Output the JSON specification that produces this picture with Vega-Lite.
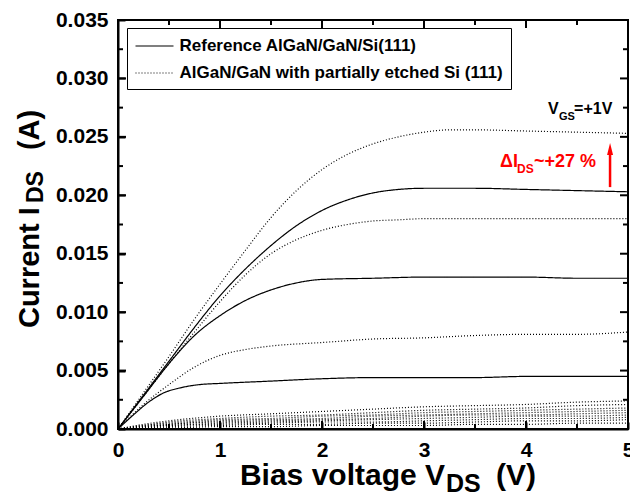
{
  "$schema": "https://vega.github.io/schema/vega-lite/v6.json",
  "width": 510,
  "height": 409,
  "autosize": {"type": "none"},
  "padding": {"left": 118, "top": 20, "right": 2, "bottom": 66},
  "background": "white",
  "config": {
    "view": {"stroke": "black", "strokeWidth": 2},
    "font": "Liberation Sans",
    "axis": {"grid": false, "labelFont": "Liberation Sans", "labelFontSize": 21, "labelFontWeight": "bold", "labelColor": "black", "title": null, "labelFlush": false, "labelOverlap": false}
  },
  "datasets": {
    "xt": [{"t":0,"k":"major"},{"t":0.5,"k":"minor"},{"t":1,"k":"major"},{"t":1.5,"k":"minor"},{"t":2,"k":"major"},{"t":2.5,"k":"minor"},{"t":3,"k":"major"},{"t":3.5,"k":"minor"},{"t":4,"k":"major"},{"t":4.5,"k":"minor"},{"t":5,"k":"major"}],
    "yt": [{"t":0,"k":"major"},{"t":0.0025,"k":"minor"},{"t":0.005,"k":"major"},{"t":0.0075,"k":"minor"},{"t":0.01,"k":"major"},{"t":0.0125,"k":"minor"},{"t":0.015,"k":"major"},{"t":0.0175,"k":"minor"},{"t":0.02,"k":"major"},{"t":0.0225,"k":"minor"},{"t":0.025,"k":"major"},{"t":0.0275,"k":"minor"},{"t":0.03,"k":"major"},{"t":0.0325,"k":"minor"},{"t":0.035,"k":"major"}]
  },
  "resolve": {"axis": {"x": "independent", "y": "independent"}},
  "layer": [
    {
      "data": {"values": [
        {"s":"R","c":"S1","v":0,"i":0},{"s":"R","c":"S1","v":0.25,"i":0.0029},{"s":"R","c":"S1","v":0.5,"i":0.0058},{"s":"R","c":"S1","v":0.75,"i":0.0087},{"s":"R","c":"S1","v":1,"i":0.0114},{"s":"R","c":"S1","v":1.25,"i":0.0137},{"s":"R","c":"S1","v":1.5,"i":0.0157},{"s":"R","c":"S1","v":1.75,"i":0.0174},{"s":"R","c":"S1","v":2,"i":0.0187},{"s":"R","c":"S1","v":2.25,"i":0.0196},{"s":"R","c":"S1","v":2.5,"i":0.0202},{"s":"R","c":"S1","v":2.75,"i":0.0205},{"s":"R","c":"S1","v":3,"i":0.0206},{"s":"R","c":"S1","v":3.5,"i":0.0206},{"s":"R","c":"S1","v":4,"i":0.0205},{"s":"R","c":"S1","v":4.5,"i":0.0204},{"s":"R","c":"S1","v":5,"i":0.0203},
        {"s":"R","c":"S2","v":0,"i":0},{"s":"R","c":"S2","v":0.25,"i":0.0028},{"s":"R","c":"S2","v":0.5,"i":0.0056},{"s":"R","c":"S2","v":0.75,"i":0.008},{"s":"R","c":"S2","v":1,"i":0.0097},{"s":"R","c":"S2","v":1.25,"i":0.011},{"s":"R","c":"S2","v":1.5,"i":0.0119},{"s":"R","c":"S2","v":1.75,"i":0.0125},{"s":"R","c":"S2","v":2,"i":0.0128},{"s":"R","c":"S2","v":2.5,"i":0.0129},{"s":"R","c":"S2","v":3,"i":0.013},{"s":"R","c":"S2","v":3.5,"i":0.013},{"s":"R","c":"S2","v":4,"i":0.013},{"s":"R","c":"S2","v":4.5,"i":0.0129},{"s":"R","c":"S2","v":5,"i":0.0129},
        {"s":"R","c":"S3","v":0,"i":0},{"s":"R","c":"S3","v":0.15,"i":0.0012},{"s":"R","c":"S3","v":0.3,"i":0.0023},{"s":"R","c":"S3","v":0.45,"i":0.0031},{"s":"R","c":"S3","v":0.6,"i":0.0035},{"s":"R","c":"S3","v":0.8,"i":0.0038},{"s":"R","c":"S3","v":1,"i":0.0039},{"s":"R","c":"S3","v":1.5,"i":0.0041},{"s":"R","c":"S3","v":2,"i":0.0043},{"s":"R","c":"S3","v":2.5,"i":0.0044},{"s":"R","c":"S3","v":3,"i":0.0044},{"s":"R","c":"S3","v":3.5,"i":0.0044},{"s":"R","c":"S3","v":4,"i":0.0045},{"s":"R","c":"S3","v":4.5,"i":0.0045},{"s":"R","c":"S3","v":5,"i":0.0045},
        {"s":"E","c":"D1","v":0,"i":0},{"s":"E","c":"D1","v":0.25,"i":0.0031},{"s":"E","c":"D1","v":0.5,"i":0.0062},{"s":"E","c":"D1","v":0.75,"i":0.0094},{"s":"E","c":"D1","v":1,"i":0.0124},{"s":"E","c":"D1","v":1.25,"i":0.0153},{"s":"E","c":"D1","v":1.5,"i":0.0181},{"s":"E","c":"D1","v":1.75,"i":0.0204},{"s":"E","c":"D1","v":2,"i":0.0222},{"s":"E","c":"D1","v":2.25,"i":0.0235},{"s":"E","c":"D1","v":2.5,"i":0.0244},{"s":"E","c":"D1","v":2.75,"i":0.025},{"s":"E","c":"D1","v":3,"i":0.0254},{"s":"E","c":"D1","v":3.25,"i":0.0256},{"s":"E","c":"D1","v":3.5,"i":0.0256},{"s":"E","c":"D1","v":4,"i":0.0255},{"s":"E","c":"D1","v":4.5,"i":0.0254},{"s":"E","c":"D1","v":5,"i":0.0253},
        {"s":"E","c":"D2","v":0,"i":0},{"s":"E","c":"D2","v":0.25,"i":0.0028},{"s":"E","c":"D2","v":0.5,"i":0.0056},{"s":"E","c":"D2","v":0.75,"i":0.0083},{"s":"E","c":"D2","v":1,"i":0.0109},{"s":"E","c":"D2","v":1.25,"i":0.0132},{"s":"E","c":"D2","v":1.5,"i":0.015},{"s":"E","c":"D2","v":1.75,"i":0.0162},{"s":"E","c":"D2","v":2,"i":0.017},{"s":"E","c":"D2","v":2.25,"i":0.0175},{"s":"E","c":"D2","v":2.5,"i":0.0178},{"s":"E","c":"D2","v":2.75,"i":0.0179},{"s":"E","c":"D2","v":3,"i":0.018},{"s":"E","c":"D2","v":3.5,"i":0.018},{"s":"E","c":"D2","v":4,"i":0.018},{"s":"E","c":"D2","v":4.5,"i":0.018},{"s":"E","c":"D2","v":5,"i":0.018},
        {"s":"E","c":"D3","v":0,"i":0},{"s":"E","c":"D3","v":0.25,"i":0.0021},{"s":"E","c":"D3","v":0.5,"i":0.0038},{"s":"E","c":"D3","v":0.75,"i":0.0053},{"s":"E","c":"D3","v":1,"i":0.0063},{"s":"E","c":"D3","v":1.25,"i":0.0068},{"s":"E","c":"D3","v":1.5,"i":0.0071},{"s":"E","c":"D3","v":2,"i":0.0074},{"s":"E","c":"D3","v":2.5,"i":0.0077},{"s":"E","c":"D3","v":3,"i":0.0078},{"s":"E","c":"D3","v":3.5,"i":0.008},{"s":"E","c":"D3","v":4,"i":0.0081},{"s":"E","c":"D3","v":4.5,"i":0.0081},{"s":"E","c":"D3","v":5,"i":0.0083},
        {"s":"E","c":"D4","v":0,"i":0},{"s":"E","c":"D4","v":0.25,"i":0.0004},{"s":"E","c":"D4","v":0.5,"i":0.0007},{"s":"E","c":"D4","v":1,"i":0.0011},{"s":"E","c":"D4","v":1.5,"i":0.0013},{"s":"E","c":"D4","v":2,"i":0.0015},{"s":"E","c":"D4","v":2.5,"i":0.0017},{"s":"E","c":"D4","v":3,"i":0.0019},{"s":"E","c":"D4","v":3.5,"i":0.002},{"s":"E","c":"D4","v":4,"i":0.0021},{"s":"E","c":"D4","v":4.5,"i":0.0023},{"s":"E","c":"D4","v":5,"i":0.0024},
        {"s":"E","c":"L1","v":0,"i":0},{"s":"E","c":"L1","v":0.25,"i":0.0003},{"s":"E","c":"L1","v":0.5,"i":0.0006},{"s":"E","c":"L1","v":1,"i":0.0009},{"s":"E","c":"L1","v":1.5,"i":0.0011},{"s":"E","c":"L1","v":2,"i":0.0012},{"s":"E","c":"L1","v":2.5,"i":0.0014},{"s":"E","c":"L1","v":3,"i":0.0016},{"s":"E","c":"L1","v":3.5,"i":0.0017},{"s":"E","c":"L1","v":4,"i":0.0018},{"s":"E","c":"L1","v":4.5,"i":0.002},{"s":"E","c":"L1","v":5,"i":0.0021},
        {"s":"E","c":"L2","v":0,"i":0},{"s":"E","c":"L2","v":0.25,"i":0.0003},{"s":"E","c":"L2","v":0.5,"i":0.0005},{"s":"E","c":"L2","v":1,"i":0.0008},{"s":"E","c":"L2","v":1.5,"i":0.0009},{"s":"E","c":"L2","v":2,"i":0.0011},{"s":"E","c":"L2","v":2.5,"i":0.0012},{"s":"E","c":"L2","v":3,"i":0.0014},{"s":"E","c":"L2","v":3.5,"i":0.0015},{"s":"E","c":"L2","v":4,"i":0.0016},{"s":"E","c":"L2","v":4.5,"i":0.0017},{"s":"E","c":"L2","v":5,"i":0.0018},
        {"s":"E","c":"L3","v":0,"i":0},{"s":"E","c":"L3","v":0.25,"i":0.0002},{"s":"E","c":"L3","v":0.5,"i":0.0004},{"s":"E","c":"L3","v":1,"i":0.0007},{"s":"E","c":"L3","v":1.5,"i":0.0008},{"s":"E","c":"L3","v":2,"i":0.0009},{"s":"E","c":"L3","v":2.5,"i":0.0011},{"s":"E","c":"L3","v":3,"i":0.0012},{"s":"E","c":"L3","v":3.5,"i":0.0013},{"s":"E","c":"L3","v":4,"i":0.0014},{"s":"E","c":"L3","v":4.5,"i":0.0015},{"s":"E","c":"L3","v":5,"i":0.0016},
        {"s":"E","c":"L4","v":0,"i":0},{"s":"E","c":"L4","v":0.25,"i":0.0002},{"s":"E","c":"L4","v":0.5,"i":0.0004},{"s":"E","c":"L4","v":1,"i":0.0006},{"s":"E","c":"L4","v":1.5,"i":0.0007},{"s":"E","c":"L4","v":2,"i":0.0008},{"s":"E","c":"L4","v":2.5,"i":0.0009},{"s":"E","c":"L4","v":3,"i":0.0011},{"s":"E","c":"L4","v":3.5,"i":0.0012},{"s":"E","c":"L4","v":4,"i":0.0012},{"s":"E","c":"L4","v":4.5,"i":0.0013},{"s":"E","c":"L4","v":5,"i":0.0014},
        {"s":"E","c":"L5","v":0,"i":0},{"s":"E","c":"L5","v":0.25,"i":0.0002},{"s":"E","c":"L5","v":0.5,"i":0.0003},{"s":"E","c":"L5","v":1,"i":0.0005},{"s":"E","c":"L5","v":1.5,"i":0.0006},{"s":"E","c":"L5","v":2,"i":0.0007},{"s":"E","c":"L5","v":2.5,"i":0.0008},{"s":"E","c":"L5","v":3,"i":0.0009},{"s":"E","c":"L5","v":3.5,"i":0.001},{"s":"E","c":"L5","v":4,"i":0.0011},{"s":"E","c":"L5","v":4.5,"i":0.0011},{"s":"E","c":"L5","v":5,"i":0.0012},
        {"s":"E","c":"L6","v":0,"i":0},{"s":"E","c":"L6","v":0.25,"i":0.0001},{"s":"E","c":"L6","v":0.5,"i":0.0003},{"s":"E","c":"L6","v":1,"i":0.0004},{"s":"E","c":"L6","v":1.5,"i":0.0005},{"s":"E","c":"L6","v":2,"i":0.0006},{"s":"E","c":"L6","v":2.5,"i":0.0006},{"s":"E","c":"L6","v":3,"i":0.0007},{"s":"E","c":"L6","v":3.5,"i":0.0008},{"s":"E","c":"L6","v":4,"i":0.0009},{"s":"E","c":"L6","v":4.5,"i":0.0009},{"s":"E","c":"L6","v":5,"i":0.001},
        {"s":"E","c":"L7","v":0,"i":0},{"s":"E","c":"L7","v":0.25,"i":0.0001},{"s":"E","c":"L7","v":0.5,"i":0.0002},{"s":"E","c":"L7","v":1,"i":0.0003},{"s":"E","c":"L7","v":1.5,"i":0.0004},{"s":"E","c":"L7","v":2,"i":0.0004},{"s":"E","c":"L7","v":2.5,"i":0.0005},{"s":"E","c":"L7","v":3,"i":0.0005},{"s":"E","c":"L7","v":3.5,"i":0.0006},{"s":"E","c":"L7","v":4,"i":0.0007},{"s":"E","c":"L7","v":4.5,"i":0.0007},{"s":"E","c":"L7","v":5,"i":0.0008},
        {"s":"E","c":"L8","v":0,"i":0},{"s":"E","c":"L8","v":0.25,"i":0.0001},{"s":"E","c":"L8","v":0.5,"i":0.0001},{"s":"E","c":"L8","v":1,"i":0.0002},{"s":"E","c":"L8","v":1.5,"i":0.0002},{"s":"E","c":"L8","v":2,"i":0.0003},{"s":"E","c":"L8","v":2.5,"i":0.0003},{"s":"E","c":"L8","v":3,"i":0.0003},{"s":"E","c":"L8","v":3.5,"i":0.0004},{"s":"E","c":"L8","v":4,"i":0.0004},{"s":"E","c":"L8","v":4.5,"i":0.0005},{"s":"E","c":"L8","v":5,"i":0.0005}
      ]},
      "mark": {"type": "line", "interpolate": "monotone", "color": "black", "strokeWidth": 1.2, "clip": true},
      "encoding": {
        "x": {"field": "v", "type": "quantitative", "scale": {"domain": [0, 5], "nice": false, "zero": false},
          "axis": {"orient": "bottom", "values": [0,1,2,3,4,5], "format": "d", "ticks": true, "tickSize": -7, "tickColor": "black", "tickWidth": 2, "domain": true, "domainColor": "black", "domainWidth": 2, "labelPadding": 17}},
        "y": {"field": "i", "type": "quantitative", "scale": {"domain": [0, 0.035], "nice": false, "zero": false},
          "axis": {"orient": "left", "values": [0,0.005,0.01,0.015,0.02,0.025,0.03,0.035], "format": ".3f", "ticks": true, "tickSize": -7, "tickColor": "black", "tickWidth": 2, "domain": true, "domainColor": "black", "domainWidth": 2, "labelPadding": 17}},
        "detail": {"field": "c", "type": "nominal"},
        "strokeDash": {"field": "s", "type": "nominal", "scale": {"domain": ["R", "E"], "range": [[1, 0], [1, 2]]},
          "legend": {"orient": "none", "legendX": 9, "legendY": 8, "title": null, "symbolType": "M-1,0H3", "symbolSize": 361, "symbolStrokeWidth": 1.2, "symbolStrokeColor": "black", "symbolFillColor": "transparent", "labelFont": "Liberation Sans", "labelFontSize": 17, "labelFontWeight": "bold", "labelColor": "black", "labelOffset": 24, "padding": 7.5, "rowPadding": 8, "strokeColor": "black", "fillColor": "white", "labelLimit": 600,
            "labelExpr": "datum.value === 'R' ? 'Reference AlGaN/GaN/Si(111)' : '\u00a0\u00a0AlGaN/GaN with partially etched Si (111)'"}}
      }
    },
    {
      "data": {"name": "xt"},
      "mark": {"type": "tick", "orient": "vertical", "color": "black", "thickness": 2, "opacity": 1, "clip": true},
      "encoding": {
        "x": {"field": "t", "type": "quantitative", "scale": {"domain": [0, 5], "nice": false, "zero": false}, "axis": null},
        "y": {"datum": 0, "type": "quantitative", "scale": {"domain": [0, 0.035], "nice": false, "zero": false}, "axis": null},
        "size": {"field": "k", "type": "ordinal", "scale": {"domain": ["major", "minor"], "range": [16, 10]}, "legend": null}
      }
    },
    {
      "data": {"name": "xt"},
      "mark": {"type": "tick", "orient": "vertical", "color": "black", "thickness": 2, "opacity": 1, "clip": true},
      "encoding": {
        "x": {"field": "t", "type": "quantitative", "scale": {"domain": [0, 5], "nice": false, "zero": false}, "axis": null},
        "y": {"datum": 0.035, "type": "quantitative", "scale": {"domain": [0, 0.035], "nice": false, "zero": false}, "axis": null},
        "size": {"field": "k", "type": "ordinal", "scale": {"domain": ["major", "minor"], "range": [16, 10]}, "legend": null}
      }
    },
    {
      "data": {"name": "yt"},
      "mark": {"type": "tick", "orient": "horizontal", "color": "black", "thickness": 2, "opacity": 1, "clip": true},
      "encoding": {
        "y": {"field": "t", "type": "quantitative", "scale": {"domain": [0, 0.035], "nice": false, "zero": false}, "axis": null},
        "x": {"datum": 0, "type": "quantitative", "scale": {"domain": [0, 5], "nice": false, "zero": false}, "axis": null},
        "size": {"field": "k", "type": "ordinal", "scale": {"domain": ["major", "minor"], "range": [16, 10]}, "legend": null}
      }
    },
    {
      "data": {"name": "yt"},
      "mark": {"type": "tick", "orient": "horizontal", "color": "black", "thickness": 2, "opacity": 1, "clip": true},
      "encoding": {
        "y": {"field": "t", "type": "quantitative", "scale": {"domain": [0, 0.035], "nice": false, "zero": false}, "axis": null},
        "x": {"datum": 5, "type": "quantitative", "scale": {"domain": [0, 5], "nice": false, "zero": false}, "axis": null},
        "size": {"field": "k", "type": "ordinal", "scale": {"domain": ["major", "minor"], "range": [16, 10]}, "legend": null}
      }
    },
    {
      "data": {"values": [{}]},
      "mark": {"type": "text", "align": "left", "baseline": "alphabetic", "fontSize": 16, "fontWeight": "bold", "color": "black"},
      "encoding": {
        "x": {"datum": 4.216, "type": "quantitative", "scale": {"domain": [0, 5], "nice": false, "zero": false}, "axis": null},
        "y": {"datum": 0.02696, "type": "quantitative", "scale": {"domain": [0, 0.035], "nice": false, "zero": false}, "axis": null},
        "text": {"value": "V"}
      }
    },
    {
      "data": {"values": [{}]},
      "mark": {"type": "text", "align": "left", "baseline": "alphabetic", "fontSize": 11, "fontWeight": "bold", "color": "black"},
      "encoding": {
        "x": {"datum": 4.324, "type": "quantitative", "scale": {"domain": [0, 5], "nice": false, "zero": false}, "axis": null},
        "y": {"datum": 0.0264, "type": "quantitative", "scale": {"domain": [0, 0.035], "nice": false, "zero": false}, "axis": null},
        "text": {"value": "GS"}
      }
    },
    {
      "data": {"values": [{}]},
      "mark": {"type": "text", "align": "left", "baseline": "alphabetic", "fontSize": 16, "fontWeight": "bold", "color": "black"},
      "encoding": {
        "x": {"datum": 4.471, "type": "quantitative", "scale": {"domain": [0, 5], "nice": false, "zero": false}, "axis": null},
        "y": {"datum": 0.02696, "type": "quantitative", "scale": {"domain": [0, 0.035], "nice": false, "zero": false}, "axis": null},
        "text": {"value": "=+1V"}
      }
    },
    {
      "data": {"values": [{}]},
      "mark": {"type": "text", "align": "left", "baseline": "alphabetic", "fontSize": 18, "fontWeight": "bold", "color": "#ff0000"},
      "encoding": {
        "x": {"datum": 3.745, "type": "quantitative", "scale": {"domain": [0, 5], "nice": false, "zero": false}, "axis": null},
        "y": {"datum": 0.02242, "type": "quantitative", "scale": {"domain": [0, 0.035], "nice": false, "zero": false}, "axis": null},
        "text": {"value": "ΔI"}
      }
    },
    {
      "data": {"values": [{}]},
      "mark": {"type": "text", "align": "left", "baseline": "alphabetic", "fontSize": 12, "fontWeight": "bold", "color": "#ff0000"},
      "encoding": {
        "x": {"datum": 3.912, "type": "quantitative", "scale": {"domain": [0, 5], "nice": false, "zero": false}, "axis": null},
        "y": {"datum": 0.02191, "type": "quantitative", "scale": {"domain": [0, 0.035], "nice": false, "zero": false}, "axis": null},
        "text": {"value": "DS"}
      }
    },
    {
      "data": {"values": [{}]},
      "mark": {"type": "text", "align": "left", "baseline": "alphabetic", "fontSize": 18, "fontWeight": "bold", "color": "#ff0000"},
      "encoding": {
        "x": {"datum": 4.078, "type": "quantitative", "scale": {"domain": [0, 5], "nice": false, "zero": false}, "axis": null},
        "y": {"datum": 0.02242, "type": "quantitative", "scale": {"domain": [0, 0.035], "nice": false, "zero": false}, "axis": null},
        "text": {"value": "~+27 %"}
      }
    },
    {
      "data": {"values": [{}]},
      "mark": {"type": "rule", "color": "#ff0000", "strokeWidth": 2.5},
      "encoding": {
        "x": {"datum": 4.824, "type": "quantitative", "scale": {"domain": [0, 5], "nice": false, "zero": false}, "axis": null},
        "y": {"datum": 0.0207, "type": "quantitative", "scale": {"domain": [0, 0.035], "nice": false, "zero": false}, "axis": null},
        "y2": {"datum": 0.0236}
      }
    },
    {
      "data": {"values": [{}]},
      "mark": {"type": "point", "shape": "M0,-1L0.5,1L-0.5,1Z", "filled": true, "color": "#ff0000", "opacity": 1, "size": 144},
      "encoding": {
        "x": {"datum": 4.824, "type": "quantitative", "scale": {"domain": [0, 5], "nice": false, "zero": false}, "axis": null},
        "y": {"datum": 0.02396, "type": "quantitative", "scale": {"domain": [0, 0.035], "nice": false, "zero": false}, "axis": null}
      }
    },
    {
      "data": {"values": [{}]},
      "mark": {"type": "text", "align": "right", "baseline": "alphabetic", "fontSize": 30, "fontWeight": "bold", "color": "black"},
      "encoding": {
        "x": {"datum": 3.206, "type": "quantitative", "scale": {"domain": [0, 5], "nice": false, "zero": false}, "axis": null},
        "y": {"datum": -0.00479, "type": "quantitative", "scale": {"domain": [0, 0.035], "nice": false, "zero": false}, "axis": null},
        "text": {"value": "Bias voltage V"}
      }
    },
    {
      "data": {"values": [{}]},
      "mark": {"type": "text", "align": "left", "baseline": "alphabetic", "fontSize": 25, "fontWeight": "bold", "color": "black"},
      "encoding": {
        "x": {"datum": 3.216, "type": "quantitative", "scale": {"domain": [0, 5], "nice": false, "zero": false}, "axis": null},
        "y": {"datum": -0.00539, "type": "quantitative", "scale": {"domain": [0, 0.035], "nice": false, "zero": false}, "axis": null},
        "text": {"value": "DS"}
      }
    },
    {
      "data": {"values": [{}]},
      "mark": {"type": "text", "align": "left", "baseline": "alphabetic", "fontSize": 30, "fontWeight": "bold", "color": "black"},
      "encoding": {
        "x": {"datum": 3.706, "type": "quantitative", "scale": {"domain": [0, 5], "nice": false, "zero": false}, "axis": null},
        "y": {"datum": -0.00479, "type": "quantitative", "scale": {"domain": [0, 0.035], "nice": false, "zero": false}, "axis": null},
        "text": {"value": "(V)"}
      }
    },
    {
      "data": {"values": [{}]},
      "mark": {"type": "text", "align": "left", "baseline": "alphabetic", "angle": 270, "fontSize": 29, "fontWeight": "bold", "color": "black"},
      "encoding": {
        "x": {"datum": -0.775, "type": "quantitative", "scale": {"domain": [0, 5], "nice": false, "zero": false}, "axis": null},
        "y": {"datum": 0.00864, "type": "quantitative", "scale": {"domain": [0, 0.035], "nice": false, "zero": false}, "axis": null},
        "text": {"value": "Current I"}
      }
    },
    {
      "data": {"values": [{}]},
      "mark": {"type": "text", "align": "left", "baseline": "alphabetic", "angle": 270, "fontSize": 23, "fontWeight": "bold", "color": "black"},
      "encoding": {
        "x": {"datum": -0.735, "type": "quantitative", "scale": {"domain": [0, 5], "nice": false, "zero": false}, "axis": null},
        "y": {"datum": 0.01934, "type": "quantitative", "scale": {"domain": [0, 0.035], "nice": false, "zero": false}, "axis": null},
        "text": {"value": "DS"}
      }
    },
    {
      "data": {"values": [{}]},
      "mark": {"type": "text", "align": "left", "baseline": "alphabetic", "angle": 270, "fontSize": 29, "fontWeight": "bold", "color": "black"},
      "encoding": {
        "x": {"datum": -0.775, "type": "quantitative", "scale": {"domain": [0, 5], "nice": false, "zero": false}, "axis": null},
        "y": {"datum": 0.02387, "type": "quantitative", "scale": {"domain": [0, 0.035], "nice": false, "zero": false}, "axis": null},
        "text": {"value": "(A)"}
      }
    }
  ]
}
